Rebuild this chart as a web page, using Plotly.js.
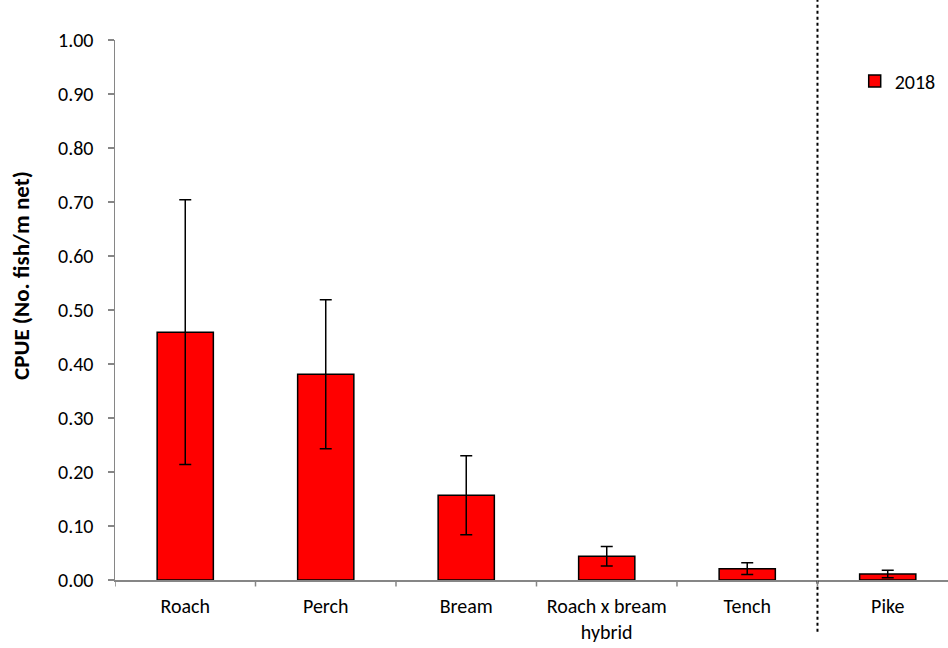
<!DOCTYPE html>
<html>
<head>
<meta charset="utf-8">
<script src="https://cdn.plot.ly/plotly-3.0.1.min.js"></script>
<style>html,body{margin:0;padding:0;background:#fff;}#chart{width:948px;height:648px;}</style>
</head>
<body>
<div id="chart"></div>
<script>
const categories = ["Roach", "Perch", "Bream", "Roach x bream<br>hybrid", "Tench", "Pike"];
const cpue2018 = [0.459, 0.381, 0.157, 0.044, 0.021, 0.011];
const err2018 = [0.245, 0.138, 0.073, 0.018, 0.011, 0.007];
const yTickVals = [0, 0.1, 0.2, 0.3, 0.4, 0.5, 0.6, 0.7, 0.8, 0.9, 1.0];
const yTickText = ["0.00", "0.10", "0.20", "0.30", "0.40", "0.50", "0.60", "0.70", "0.80", "0.90", "1.00"];
const yTitle = "CPUE (No. fish/m net)";
const seriesName = "2018";
const dividerAt = 4.5;

const font = "Carlito, Calibri, Lato, 'Open Sans', sans-serif";

const trace = {
  type: "bar",
  name: seriesName,
  x: categories.map((c, i) => i),
  y: cpue2018,
  width: 0.4,
  marker: {color: "#ff0000", line: {color: "#000000", width: 1.5}},
  error_y: {type: "data", array: err2018, visible: true, color: "#000000", thickness: 1.5, width: 6},
  showlegend: true
};

const layout = {
  width: 948, height: 648,
  margin: {l: 115, r: 0, t: 40, b: 68},
  paper_bgcolor: "#ffffff", plot_bgcolor: "#ffffff",
  font: {family: font, size: 20, color: "#000000"},
  xaxis: {
    type: "linear",
    range: [-0.5, 5.429],
    tickmode: "array",
    tickvals: categories.map((c, i) => i),
    ticktext: categories,
    ticks: "", ticklabelstandoff: 7, showgrid: false, zeroline: false,
    showline: true, linecolor: "#868686", linewidth: 1.5,
    tickfont: {family: font, size: 20, color: "#000000"},
    fixedrange: true
  },
  yaxis: {
    range: [0, 1.0],
    tickmode: "array", tickvals: yTickVals, ticktext: yTickText,
    ticks: "outside", ticklen: 6, tickcolor: "#868686", tickwidth: 1.5,
    ticklabelstandoff: 10,
    showgrid: false, zeroline: false,
    showline: true, linecolor: "#868686", linewidth: 1.5,
    tickfont: {family: font, size: 20, color: "#000000"},
    fixedrange: true
  },
  annotations: [
    {text: "<b>" + yTitle + "</b>", xref: "paper", yref: "paper", x: -0.1128, y: 0.563,
     xanchor: "center", yanchor: "middle", textangle: -90, showarrow: false,
     font: {family: font, size: 23, color: "#000000"}}
  ],
  legend: {
    x: 0.888, y: 0.924, xanchor: "left", yanchor: "middle",
    bgcolor: "rgba(0,0,0,0)", font: {family: font, size: 20, color: "#000000"},
    itemwidth: 30, tracegroupgap: 0
  },
  shapes: [
    {type: "line", xref: "x", yref: "paper", x0: dividerAt, x1: dividerAt, y0: -0.096, y1: 1.074,
     line: {color: "#000000", width: 2, dash: "dot"}}
  ].concat([-0.5, 0.5, 1.5, 2.5, 3.5, 4.5].map(v => ({
     type: "line", xref: "x", yref: "paper", x0: v, x1: v, y0: 0, y1: -0.012,
     line: {color: "#868686", width: 1.5}
  })))
};

Plotly.newPlot("chart", [trace], layout, {displayModeBar: false, staticPlot: true});
</script>
</body>
</html>
